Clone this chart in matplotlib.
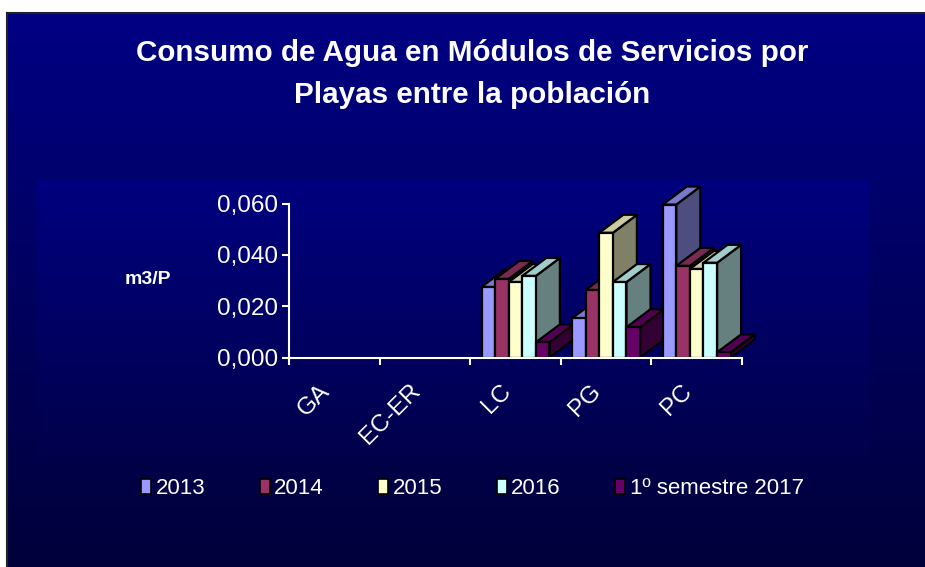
import numpy as np
import matplotlib
matplotlib.use('Agg')
import matplotlib.pyplot as plt
from matplotlib.patches import Polygon, Patch
from matplotlib import transforms

# datos (m3 por persona)
playas = ['GA', 'EC-ER', 'LC', 'PG', 'PC']
anos = ['2013', '2014', '2015', '2016', '1º semestre 2017']
v2013 = [np.nan, np.nan, 0.0275, 0.0153, 0.0596]
v2014 = [np.nan, np.nan, 0.0306, 0.0263, 0.0357]
v2015 = [np.nan, np.nan, 0.0294, 0.0486, 0.0345]
v2016 = [np.nan, np.nan, 0.0318, 0.0294, 0.0369]
v2017 = [np.nan, np.nan, 0.0059, 0.0118, 0.0020]
series = [v2013, v2014, v2015, v2016, v2017]
colores = ['#9999FF', '#993366', '#FFFFCC', '#CCFFFF', '#660066']

plt.rcParams['font.family'] = ['Liberation Sans', 'DejaVu Sans']

W, H = 925, 567


def fx(px):
    return px / W


def fy(py):
    return 1 - py / H


def shade(c, f):
    r, g, b = matplotlib.colors.to_rgb(c)
    return (r * f, g * f, b * f)


def gradient_ax(rect, top, bottom):
    a = fig.add_axes(rect)
    g = np.linspace(0, 1, 256).reshape(-1, 1)
    img = np.zeros((256, 1, 3))
    img[..., 2] = (top + (bottom - top) * g) / 255
    a.imshow(img, aspect='auto', extent=[0, 1, 0, 1], interpolation='bilinear')
    a.set_xlim(0, 1)
    a.set_ylim(0, 1)
    a.set_xticks([])
    a.set_yticks([])
    for s in a.spines.values():
        s.set_visible(False)
    return a


fig = plt.figure(figsize=(9.25, 5.67), dpi=100, facecolor='white')

# fondo de la diapositiva
bg = gradient_ax([fx(7), 0, 1 - fx(7), fy(13)], 0x84, 0x3a)
for s in ['left', 'top']:
    bg.spines[s].set_visible(True)
    bg.spines[s].set_color('#222222')
    bg.spines[s].set_linewidth(1.5)
# area del grafico
gradient_ax([fx(37), fy(462), fx(870) - fx(37), fy(179) - fy(462)], 0x80, 0x4a)

ax = fig.add_axes([fx(289), fy(357.5), fx(742) - fx(289), fy(203.5) - fy(357.5)])
ax.patch.set_visible(False)
ax.set_xlim(0, 5)
ax.set_ylim(0, 0.06)

w = 0.15
dx = 0.265
dy = 0.0070
z = 2
for c in range(len(playas)):
    for s, vals in enumerate(series):
        v = vals[c]
        if np.isnan(v):
            continue
        col = colores[s]
        x0 = c + 0.125 + s * w
        x1 = x0 + w
        side = Polygon([(x1, 0), (x1 + dx, dy), (x1 + dx, v + dy), (x1, v)],
                       fc=shade(col, 0.5), ec='black', lw=1.6, clip_on=False, zorder=z)
        top = Polygon([(x0, v), (x1, v), (x1 + dx, v + dy), (x0 + dx, v + dy)],
                      fc=shade(col, 0.8), ec='black', lw=1.6, clip_on=False, zorder=z + 0.1)
        ax.add_patch(side)
        ax.add_patch(top)
        ax.bar(x0, v, width=w, align='edge', color=col, edgecolor='black', lw=1.6,
               clip_on=False, zorder=z + 0.2)
        z += 1

for s in ['top', 'right']:
    ax.spines[s].set_visible(False)
for s in ['left', 'bottom']:
    ax.spines[s].set_color('white')
    ax.spines[s].set_linewidth(1.5)
    ax.spines[s].set_zorder(100)

ax.set_xticks(range(6))
ax.set_xticklabels([])
yt = [0, 0.02, 0.04, 0.06]
ax.set_yticks(yt)
ax.set_yticklabels([f'{t:.3f}'.replace('.', ',') for t in yt])
ax.tick_params(axis='both', direction='out', length=5, width=1.5, color='white',
               labelcolor='white', labelsize=17.5, pad=3)

off = transforms.offset_copy(ax.transData, fig=fig, x=-5.8, y=-21.6, units='points')
for i, lab in enumerate(playas):
    ax.text(i + 0.5, 0, lab, transform=off, rotation=45, rotation_mode='anchor',
            ha='right', va='center', color='white', fontsize=17.5)

fig.text(fx(148), fy(280), 'm3/P', fontsize=14, weight='bold', color='white',
         ha='center', va='center')

fig.text(fx(472), fy(53), 'Consumo de Agua en Módulos de Servicios por',
         ha='center', va='center', fontsize=21.3, weight='bold', color='white')
fig.text(fx(472), fy(95), 'Playas entre la población',
         ha='center', va='center', fontsize=21.3, weight='bold', color='white')

handles = [Patch(facecolor=c, edgecolor='black', lw=1.2) for c in colores]
fig.legend(handles, anos, loc='center left', bbox_to_anchor=(fx(141), fy(489)),
           ncol=5, frameon=False, fontsize=16, handlelength=0.45, handleheight=0.65,
           handletextpad=0.2, columnspacing=2.45, borderpad=0, borderaxespad=0,
           labelcolor='white')

fig.savefig('out.png', dpi=100)
